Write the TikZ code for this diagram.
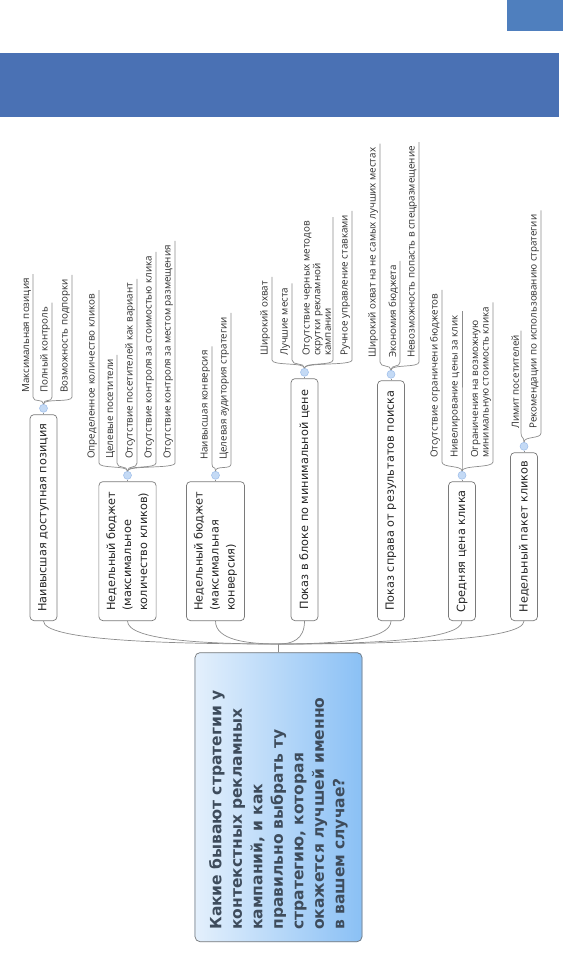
\documentclass[tikz,border=0pt]{standalone}
\usepackage{fontspec}
\newfontfamily\topicfont{DejaVu Sans}
\newfontfamily\subfont{Open Sans}
\usetikzlibrary{calc,backgrounds}
\definecolor{bandblue}{HTML}{4A71B4}
\definecolor{cornerblue}{HTML}{4F7FBE}
\definecolor{linegray}{HTML}{8C8C8C}
\definecolor{boxgray}{HTML}{7A7A7A}
\definecolor{dotfill}{HTML}{C4DAF5}
\definecolor{dotdraw}{HTML}{9DBDEA}
\definecolor{rootlight}{HTML}{E4F0FC}
\definecolor{rootdark}{HTML}{8AC0F5}
\definecolor{roottext}{HTML}{3E4C5C}
\definecolor{subtext}{HTML}{2E2E2E}
\tikzset{
  conn/.style={draw=linegray, line width=0.7pt},
  root/.style={draw=boxgray, line width=0.7pt, rounded corners=5pt, rotate=90, anchor=west,
    text=roottext, align=left, font=\topicfont\bfseries\fontsize{15.5}{20.5}\selectfont,
    text width=265pt, inner xsep=12pt, minimum height=167pt},
  topic/.style={draw=boxgray, line width=0.7pt, rounded corners=4pt, fill=white, rotate=90,
    anchor=west, text=black!85, align=left, font=\topicfont\fontsize{11.3}{16}\selectfont,
    inner xsep=6pt, inner ysep=7.5pt, minimum height=27pt},
  sub/.style={rotate=90, anchor=south west, text=subtext, align=left,
    font=\subfont\fontsize{9.8}{10.6}\selectfont, inner xsep=4pt, inner ysep=1.8pt},
  dot/.style={circle, draw=dotdraw, fill=dotfill, line width=0.5pt, inner sep=0pt, minimum size=8pt}
}
\begin{document}
\begin{tikzpicture}[x=1pt, y=1pt]
  \useasboundingbox (0,0) rectangle (563,-957);
  \fill[cornerblue] (507,0) rectangle (563,-31);
  \fill[bandblue] (0,-53) rectangle (559,-117);

  % central question
  \node[root] (q) at (278.5,-942) {Какие бывают стратегии у\\контекстных рекламных\\кампаний, и как\\правильно выбрать ту\\стратегию, которая\\окажется лучшей именно\\в вашем случае?};
  \begin{scope}[on background layer]
    \shade[left color=rootlight, right color=rootdark, rounded corners=5pt] (q.north east) rectangle (q.south west);
  \end{scope}
  \coordinate (j) at (278.5,-644);
  \coordinate (c) at (278.5,-640);
  \draw[conn] (q.east) -- (j);

  % strategies
  \node[topic, minimum width=206pt] (b1) at (43.5,-621) {Наивысшая доступная позиция};
  \node[topic, minimum width=139pt] (b2) at (127.5,-621) {Недельный бюджет\\(максимальное\\количество кликов)};
  \node[topic, minimum width=139pt] (b3) at (215.5,-621) {Недельный бюджет\\(максимальная\\конверсия)};
  \node[topic, minimum width=242pt] (b4) at (304.5,-621) {Показ в блоке по минимальной цене};
  \node[topic, minimum width=240pt] (b5) at (391,-621) {Показ справа от результатов поиска};
  \node[topic, minimum width=139pt] (b6) at (462,-621) {Средняя цена клика};
  \node[topic, minimum width=168pt] (b7) at (524,-621) {Недельный пакет кликов};

  \foreach \b in {b1,b2,b3,b4,b5,b6,b7}
    \draw[conn] (\b.west) .. controls (\b.west |- c) and ($(\b.west |- j)!0.5!(j)$) .. (j);

  \foreach \i in {1,...,7} {
    \path (b\i.east) ++(0,6) node[dot] (d\i) {};
    \draw[conn] (b\i.east) -- (d\i.south);
  }

  % details
  \foreach \x/\t [count=\i] in {33/Максимальная позиция, 52/Полный контроль, 72/Возможность подпорки} {
    \node[sub] (s1\i) at (\x,-397) {\t};
    \draw[conn] (d1.north) .. controls +(0,6) and +(0,-6) .. (s1\i.south west) -- (s1\i.south east);
  }
  \foreach \x/\t [count=\i] in {99/Определенное количество кликов, 117/Целевые посетители,
      137/Отсутствие посетителей как вариант, 156/Отсутствие контроля за стоимостью клика,
      175/Отсутствие контроля за местом размещения} {
    \node[sub] (s2\i) at (\x,-463) {\t};
    \draw[conn] (d2.north) .. controls +(0,6) and +(0,-6) .. (s2\i.south west) -- (s2\i.south east);
  }
  \foreach \x/\t [count=\i] in {212/Наивысшая конверсия, 231/Целевая аудитория стратегии} {
    \node[sub] (s3\i) at (\x,-464) {\t};
    \draw[conn] (d3.north) .. controls +(0,6) and +(0,-6) .. (s3\i.south west) -- (s3\i.south east);
  }
  \foreach \x/\t [count=\i] in {272/Широкий охват, 292/Лучшие места,
      333/{Отсутствие черных методов\\скрутки рекламной\\кампании}, 352/Ручное управление ставками} {
    \node[sub] (s4\i) at (\x,-360) {\t};
    \draw[conn] (d4.north) .. controls +(0,6) and +(0,-6) .. (s4\i.south west) -- (s4\i.south east);
  }
  \foreach \x/\t [count=\i] in {380/Широкий охват на не самых лучших местах, 400/Экономия бюджета,
      419/Невозможность попасть в спецразмещение} {
    \node[sub] (s5\i) at (\x,-362) {\t};
    \draw[conn] (d5.north) .. controls +(0,6) and +(0,-6) .. (s5\i.south west) -- (s5\i.south east);
  }
  \foreach \x/\t [count=\i] in {442/Отсутствие ограничени бюджетов, 462/Нивелирование цены за клик,
      493/{Ограничения на возможную\\минимальную стоимость клика}} {
    \node[sub] (s6\i) at (\x,-462) {\t};
    \draw[conn] (d6.north) .. controls +(0,6) and +(0,-6) .. (s6\i.south west) -- (s6\i.south east);
  }
  \foreach \x/\t [count=\i] in {521/Лимит посетителей, 541/Рекомендации по использованию стратегии} {
    \node[sub] (s7\i) at (\x,-433) {\t};
    \draw[conn] (d7.north) .. controls +(0,6) and +(0,-6) .. (s7\i.south west) -- (s7\i.south east);
  }
\end{tikzpicture}
\end{document}
